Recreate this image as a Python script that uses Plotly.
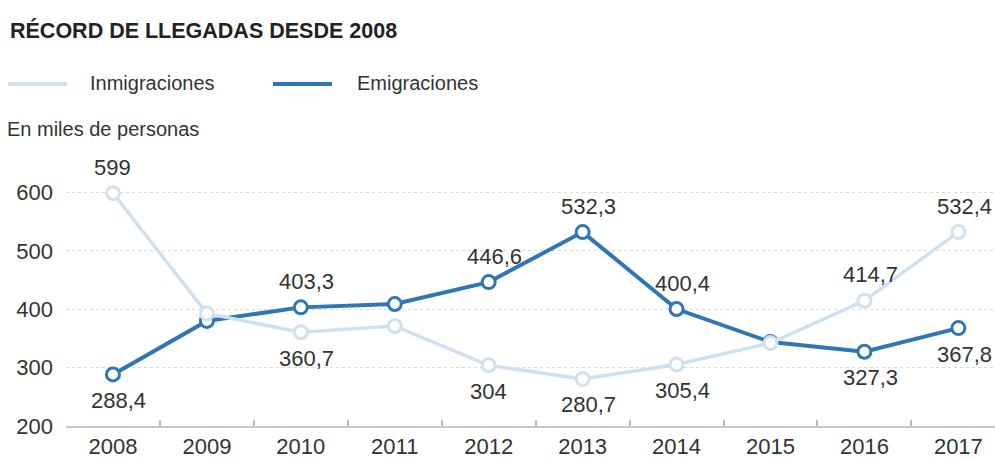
import plotly.graph_objects as go

years = ["2008", "2009", "2010", "2011", "2012", "2013", "2014", "2015", "2016", "2017"]
inmigraciones = [599.0, 392.9, 360.7, 371.3, 304.0, 280.7, 305.4, 342.1, 414.7, 532.4]
emigraciones = [288.4, 380.1, 403.3, 409.0, 446.6, 532.3, 400.4, 343.9, 327.3, 367.8]
# label position per point: 1 above, -1 below, 0 none
inm_label_pos = [1, 0, -1, 0, -1, -1, -1, 0, 1, 1]
emi_label_pos = [-1, 0, 1, 0, 1, 1, 1, 0, -1, -1]
y_ticks = [200, 300, 400, 500, 600]

LIGHT = "#cfe1f1"
DARK = "#2e76b4"
TEXT = "#333333"
FONT = "Liberation Sans, Arial, sans-serif"


def fmt(v):
    if float(v).is_integer():
        return str(int(v))
    return f"{v:.1f}".replace(".", ",")


fig = go.Figure()
fig.add_trace(go.Scatter(
    x=years, y=emigraciones, mode="lines+markers", name="Emigraciones",
    line=dict(color=DARK, width=4),
    marker=dict(size=13, color="white", line=dict(color=DARK, width=3)),
    showlegend=False, hoverinfo="x+y",
))
fig.add_trace(go.Scatter(
    x=years, y=inmigraciones, mode="lines+markers", name="Inmigraciones",
    line=dict(color=LIGHT, width=3.5),
    marker=dict(size=13, color="white", line=dict(color=LIGHT, width=3)),
    showlegend=False, hoverinfo="x+y",
))

W, H = 995, 459
ML, MR, MT, MB = 66, 0, 150, 33
pw, ph = W - ML - MR, H - MT - MB


def px_x(x):
    return (x - ML) / pw


def px_y(y):
    return (H - MB - y) / ph


annotations = []
for series, positions in ((inmigraciones, inm_label_pos), (emigraciones, emi_label_pos)):
    for i, (v, p) in enumerate(zip(series, positions)):
        if p == 0:
            continue
        txt = fmt(v)
        annotations.append(dict(
            x=i, y=v, xref="x", yref="y", text=txt, showarrow=False,
            yshift=26 * p, xshift=(6 if "," in txt else 0),
            font=dict(family=FONT, size=22, color=TEXT),
        ))

header = [
    (8, 30, "<b>RÉCORD DE LLEGADAS DESDE 2008</b>", 21.5, "#222222"),
    (88, 83, "Inmigraciones", 20, TEXT),
    (355, 83, "Emigraciones", 20, TEXT),
    (5, 129, "En miles de personas", 20, TEXT),
]
for x, y, txt, size, col in header:
    annotations.append(dict(
        x=px_x(x), y=px_y(y), xref="paper", yref="paper", text=txt,
        showarrow=False, xanchor="left", yanchor="middle",
        font=dict(family=FONT, size=size, color=col),
    ))

shapes = [
    dict(type="line", xref="paper", yref="paper", x0=px_x(8), x1=px_x(67), y0=px_y(84), y1=px_y(84),
         line=dict(color=LIGHT, width=4)),
    dict(type="line", xref="paper", yref="paper", x0=px_x(273), x1=px_x(332), y0=px_y(84), y1=px_y(84),
         line=dict(color=DARK, width=4)),
]

fig.update_layout(
    width=W, height=H,
    margin=dict(l=ML, r=MR, t=MT, b=MB, autoexpand=False),
    paper_bgcolor="white", plot_bgcolor="white",
    font=dict(family=FONT, size=20, color=TEXT),
    annotations=annotations,
    shapes=shapes,
    showlegend=False,
    xaxis=dict(
        type="category", range=[-0.5, 9.39], tickson="boundaries",
        ticks="inside", ticklen=6, tickcolor="#bbbbbb", tickwidth=1.5,
        showline=True, linecolor="#c8c8c8", linewidth=2,
        showgrid=False, zeroline=False, fixedrange=True,
        tickfont=dict(family=FONT, size=22, color=TEXT),
    ),
    yaxis=dict(
        range=[200, 673], tickvals=y_ticks, ticktext=[str(t) for t in y_ticks],
        showgrid=True, gridcolor="#d9d9d9", griddash="dot", gridwidth=1,
        zeroline=False, showline=False, ticks="", ticklabelstandoff=12,
        tickfont=dict(family=FONT, size=22, color=TEXT), fixedrange=True,
    ),
)

fig.write_html(
    "out.html",
    config={"displayModeBar": False},
    post_script="document.body.style.margin='0';",
)
